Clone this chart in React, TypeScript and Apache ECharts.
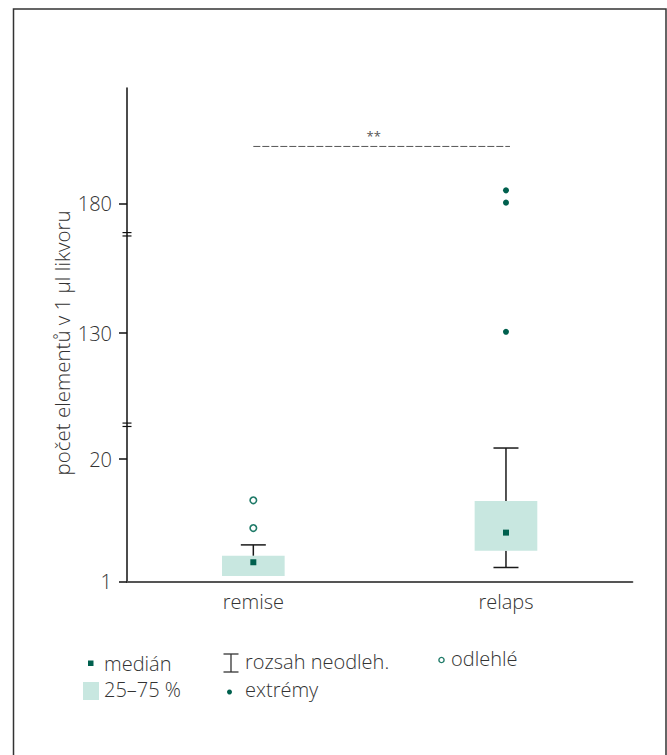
import React, { useEffect, useRef } from 'react';
import * as echarts from 'echarts';

// ---- data ----
const categories = ['remise', 'relaps'];
const whiskerLow = [1.9, 3.2];
const quartile1 = [1.9, 5.8];
const medians = [4.0, 8.6];
const quartile3 = [5.0, 13.5];
const whiskerHigh = [6.7, 21.7];
const outliers: [string, number][] = [['remise', 9.3], ['remise', 13.6]];
const extremes: [string, number][] = [['relaps', 130.2], ['relaps', 180.2], ['relaps', 182.1]];
const yTickValues = [1, 20, 130, 180];
const axisBreaks: [number, number][] = [[25.3, 115.8], [145.3, 175.3]];
const yAxisBottom = 1;
const yAxisTop = 197.95;
const significanceLevel = 188.9;
const significanceLabel = '**';
const yAxisTitle = 'počet elementů v 1 µl likvoru';
const legendLabels = ['medián', '25–75 %', 'rozsah neodleh.', 'extrémy', 'odlehlé'];

// map a real value onto the broken (compressed) axis
function toDisplay(v: number): number {
  let d = v;
  for (const [a, b] of axisBreaks) {
    if (v >= b) d -= b - a;
    else if (v > a) d -= v - a;
  }
  return d;
}

const FONT = '"Open Sans", "Noto Sans", sans-serif';
const TXT = '#333';
const BOX = '#c8e7e0';
const DARK = '#00604e';
const RING = '#1f7a68';
const FS = 20;

export default function App() {
  const ref = useRef<HTMLDivElement>(null);
  useEffect(() => {
    if (!ref.current) return;
    const chart = echarts.init(ref.current, undefined, { renderer: 'svg' });
    const tickDisp = yTickValues.map(toDisplay);
    const breakDisp = axisBreaks.map(([a]) => toDisplay(a));

    const boxData = categories.map((_, i) => [
      i,
      toDisplay(whiskerLow[i]),
      toDisplay(quartile1[i]),
      toDisplay(medians[i]),
      toDisplay(quartile3[i]),
      toDisplay(whiskerHigh[i]),
    ]);

    const legendFont = `300 ${FS}px ${FONT}`;

    const option: any = {
      animation: false,
      textStyle: { fontFamily: FONT },
      grid: { left: 127, top: 88, right: 34.7, bottom: 173.3, outerBoundsMode: 'none' },
      xAxis: {
        type: 'category',
        data: categories,
        boundaryGap: true,
        axisLine: { lineStyle: { color: '#555', width: 2.2 } },
        axisTick: { show: false },
        axisLabel: { color: TXT, fontSize: FS, fontFamily: FONT, fontWeight: 300, margin: 10 },
        splitLine: { show: false },
      },
      yAxis: {
        type: 'value',
        min: toDisplay(yAxisBottom),
        max: toDisplay(yAxisTop),
        splitLine: { show: false },
        axisLine: { show: true, lineStyle: { color: '#111', width: 1.5 } },
        axisTick: { show: true, length: 8, inside: false, customValues: tickDisp, lineStyle: { color: '#111', width: 1.5 } },
        axisLabel: {
          customValues: tickDisp,
          color: TXT,
          fontSize: FS,
          fontFamily: FONT,
          fontWeight: 300,
          margin: 15,
          formatter: (val: number) => {
            const i = tickDisp.findIndex((t) => Math.abs(t - val) < 1e-6);
            return i >= 0 ? String(yTickValues[i]) : '';
          },
        },
      },
      series: [
        {
          type: 'custom',
          name: 'box',
          clip: false,
          data: boxData,
          encode: { x: 0, y: [1, 2, 3, 4, 5] },
          renderItem: (params: any, api: any) => {
            const cx = api.coord([api.value(0), 0])[0];
            const yMin = api.coord([api.value(0), api.value(1)])[1];
            const yQ1 = api.coord([api.value(0), api.value(2)])[1];
            const yMed = api.coord([api.value(0), api.value(3)])[1];
            const yQ3 = api.coord([api.value(0), api.value(4)])[1];
            const yMax = api.coord([api.value(0), api.value(5)])[1];
            const band = api.size([1, 0])[0];
            const bw = band * 0.248;
            const cw = 25;
            const ls = { stroke: '#1a1a1a', lineWidth: 1.5 };
            const children: any[] = [];
            if (Math.abs(yMax - yQ3) > 0.5) {
              children.push({ type: 'line', shape: { x1: cx, y1: yQ3, x2: cx, y2: yMax }, style: ls });
              children.push({ type: 'line', shape: { x1: cx - cw / 2, y1: yMax, x2: cx + cw / 2, y2: yMax }, style: ls });
            }
            if (Math.abs(yMin - yQ1) > 0.5) {
              children.push({ type: 'line', shape: { x1: cx, y1: yQ1, x2: cx, y2: yMin }, style: ls });
              children.push({ type: 'line', shape: { x1: cx - cw / 2, y1: yMin, x2: cx + cw / 2, y2: yMin }, style: ls });
            }
            children.push({ type: 'rect', shape: { x: cx - bw / 2, y: yQ3, width: bw, height: yQ1 - yQ3 }, style: { fill: BOX } });
            children.push({ type: 'rect', shape: { x: cx - 3, y: yMed - 3, width: 6, height: 6 }, style: { fill: DARK } });
            return { type: 'group', children };
          },
          z: 3,
        },
        {
          type: 'scatter',
          name: 'odlehlé',
          data: outliers.map(([c, v]) => [c, toDisplay(v)]),
          symbol: 'circle',
          symbolSize: 6.5,
          itemStyle: { color: '#fff', borderColor: RING, borderWidth: 1.6, opacity: 1 },
          z: 4,
        },
        {
          type: 'scatter',
          name: 'extrémy',
          data: extremes.map(([c, v]) => [c, toDisplay(v)]),
          symbol: 'circle',
          symbolSize: 6,
          itemStyle: { color: DARK, opacity: 1 },
          z: 4,
        },
        {
          type: 'custom',
          name: 'significance',
          clip: false,
          data: [[0, toDisplay(significanceLevel), 1]],
          encode: { x: [0, 2], y: 1 },
          renderItem: (params: any, api: any) => {
            const p0 = api.coord([api.value(0), api.value(1)]);
            const p1 = api.coord([api.value(2), api.value(1)]);
            const x2 = p1[0] + 4;
            return {
              type: 'group',
              children: [
                {
                  type: 'line',
                  shape: { x1: p0[0], y1: p0[1], x2, y2: p0[1] },
                  style: { stroke: '#555', lineWidth: 1, lineDash: [7, 2] },
                },
                {
                  type: 'text',
                  x: (p0[0] + x2) / 2 - 8,
                  y: p0[1] - 10,
                  style: { text: significanceLabel, fill: '#555', font: `13px ${FONT}`, align: 'center', verticalAlign: 'middle' },
                },
              ],
            };
          },
        },
        {
          type: 'custom',
          name: 'breaks',
          clip: false,
          data: breakDisp.map((d) => [0, d]),
          encode: { x: 0, y: 1 },
          renderItem: (params: any, api: any) => {
            const ax = params.coordSys.x;
            const y = api.coord([0, api.value(1)])[1];
            const st = { stroke: '#111', lineWidth: 1.2 };
            return {
              type: 'group',
              children: [
                { type: 'line', shape: { x1: ax - 4.5, y1: y - 1.7, x2: ax + 4.5, y2: y - 1.7 }, style: st },
                { type: 'line', shape: { x1: ax - 4.5, y1: y + 1.7, x2: ax + 4.5, y2: y + 1.7 }, style: st },
              ],
            };
          },
        },
      ],
      graphic: [
        {
          type: 'rect',
          shape: { x: 13.5, y: 9, width: 652.5, height: 800 },
          style: { fill: 'none', stroke: '#333', lineWidth: 1.5 },
          silent: true,
        },
        {
          type: 'text',
          x: 62,
          y: 343,
          rotation: Math.PI / 2,
          style: { text: yAxisTitle, fill: TXT, font: `300 20.5px ${FONT}`, align: 'center', verticalAlign: 'middle' },
        },
        // legend
        { type: 'rect', shape: { x: 88, y: 660.5, width: 5.5, height: 5.5 }, style: { fill: DARK } },
        { type: 'text', x: 104, y: 663, style: { text: legendLabels[0], fill: TXT, font: legendFont, verticalAlign: 'middle' } },
        { type: 'rect', shape: { x: 83, y: 682, width: 16, height: 18 }, style: { fill: BOX } },
        { type: 'text', x: 104, y: 689.5, style: { text: legendLabels[1], fill: TXT, font: legendFont, verticalAlign: 'middle' } },
        { type: 'line', shape: { x1: 223.5, y1: 654, x2: 238.5, y2: 654 }, style: { stroke: '#333', lineWidth: 1.3 } },
        { type: 'line', shape: { x1: 231, y1: 654, x2: 231, y2: 672 }, style: { stroke: '#333', lineWidth: 1.3 } },
        { type: 'line', shape: { x1: 223.5, y1: 672, x2: 238.5, y2: 672 }, style: { stroke: '#333', lineWidth: 1.3 } },
        { type: 'text', x: 245, y: 661.5, style: { text: legendLabels[2], fill: TXT, font: legendFont, verticalAlign: 'middle' } },
        { type: 'circle', shape: { cx: 229.5, cy: 692, r: 2.5 }, style: { fill: DARK } },
        { type: 'text', x: 245, y: 689.5, style: { text: legendLabels[3], fill: TXT, font: legendFont, verticalAlign: 'middle' } },
        { type: 'circle', shape: { cx: 441.5, cy: 660, r: 2.6 }, style: { fill: '#fff', stroke: RING, lineWidth: 1.4 } },
        { type: 'text', x: 451, y: 658.5, style: { text: legendLabels[4], fill: TXT, font: legendFont, verticalAlign: 'middle' } },
      ],
    };
    chart.setOption(option);
    return () => chart.dispose();
  }, []);
  return (
    <div
      ref={ref}
      style={{ position: 'absolute', left: 0, top: 0, width: 667, height: 755, background: '#fff' }}
    />
  );
}
